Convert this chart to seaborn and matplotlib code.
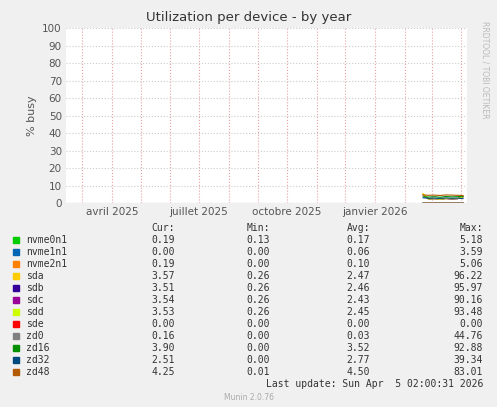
import matplotlib
matplotlib.use("Agg")
import matplotlib.pyplot as plt
import matplotlib.dates as mdates
import seaborn as sns
import pandas as pd
import numpy as np

dates = pd.to_datetime(["2026-02-20","2026-02-26","2026-03-04","2026-03-10","2026-03-16","2026-03-22","2026-03-28","2026-04-03"])
names = ["nvme0n1","nvme1n1","nvme2n1","sda","sdb","sdc","sdd","sde","zd0","zd16","zd32","zd48"]
colors = ["#00CC00","#0066B3","#FF8000","#FFCC00","#330099","#990099","#CCFF00","#FF0000","#808080","#008F00","#00487D","#B35A00"]
values = {
 "nvme0n1":[0.2,0.15,0.2,0.18,0.2,0.15,0.17,0.19],
 "nvme1n1":[0.05,0.06,0.05,0.07,0.06,0.05,0.06,0.0],
 "nvme2n1":[0.1,0.12,0.1,0.09,0.1,0.11,0.1,0.19],
 "sda":[5.5,2.3,2.6,2.2,2.5,2.4,2.6,3.57],
 "sdb":[4.8,2.3,2.5,2.2,2.6,2.3,2.5,3.51],
 "sdc":[4.6,2.2,2.4,2.1,2.5,2.3,2.4,3.54],
 "sdd":[5.0,2.2,2.5,2.1,2.6,2.4,2.5,3.53],
 "sde":[0,0,0,0,0,0,0,0],
 "zd0":[0.03,0.02,0.04,0.03,0.02,0.03,0.04,0.16],
 "zd16":[3.5,3.4,3.6,3.3,3.7,3.5,3.6,3.90],
 "zd32":[3.0,2.7,2.8,2.6,2.9,2.7,2.8,2.51],
 "zd48":[4.6,4.4,4.5,4.3,4.6,4.5,4.4,4.25],
}
cur = [0.19,0.00,0.19,3.57,3.51,3.54,3.53,0.00,0.16,3.90,2.51,4.25]
mins = [0.13,0.00,0.00,0.26,0.26,0.26,0.26,0.00,0.00,0.00,0.00,0.01]
avgs = [0.17,0.06,0.10,2.47,2.46,2.43,2.45,0.00,0.03,3.52,2.77,4.50]
maxs = [5.18,3.59,5.06,96.22,95.97,90.16,93.48,0.00,44.76,92.88,39.34,83.01]
xticks = pd.to_datetime(["2025-04-01","2025-07-01","2025-10-01","2026-01-01"])
xlabels = ["avril 2025","juillet 2025","octobre 2025","janvier 2026"]

rows = []
for n in names:
    for d, v in zip(dates, values[n]):
        rows.append({"date": d, "v": v, "dev": n})
df = pd.DataFrame(rows)

sns.set_style("white")
plt.rcParams['font.family'] = ['DejaVu Sans']
fig = plt.figure(figsize=(4.97, 4.07), dpi=100, facecolor="#F0F0F0")
ax = fig.add_axes([66/497, 1-203/407, 401/497, 175/407])
ax.set_facecolor("white")
sns.lineplot(data=df, x="date", y="v", hue="dev", palette=dict(zip(names, colors)),
             ax=ax, legend=False, linewidth=0.8)
ax.set_xlim(pd.Timestamp("2025-02-12"), pd.Timestamp("2026-04-07"))
ax.set_ylim(0, 100)
ax.set_yticks(range(0, 101, 10))
ax.set_xticks(xticks)
ax.set_xticklabels(xlabels)
ax.tick_params(labelsize=7.5, colors="#555555", length=0, pad=3)
ax.xaxis.set_minor_locator(mdates.MonthLocator())
ax.grid(True, which="major", axis="y", color="#CCCCCC", linestyle=":", linewidth=0.8)
ax.grid(True, which="both", axis="x", color="#E8A0A0", linestyle=":", linewidth=0.8)
for s in ax.spines.values():
    s.set_visible(False)
ax.axhline(0, color="#AAAAFF", lw=0.8)
ax.set_xlabel("")
ax.set_ylabel("% busy", fontsize=8, color="#555555")
fig.text(0.5, 1-18/407, "Utilization per device - by year", ha="center", va="center", fontsize=9.5, color="#333333")
fig.text(0.975, 1-70/407, "RRDTOOL / TOBI OETIKER", rotation=270, ha="center", va="center", fontsize=5.5, color="#BBBBBB")

mono = "DejaVu Sans Mono"
fs = 7
y0 = 1-240/407
dy = 12/407
hy = 1-228/407
for xx, lab in [(175, "Cur:"), (270, "Min:"), (370, "Avg:"), (483, "Max:")]:
    fig.text(xx/497, hy, lab, ha="right", va="center", fontsize=fs, family=mono, color="#333333")
for i, n in enumerate(names):
    y = y0 - i*dy
    fig.patches.append(plt.Rectangle((13/497, y-3/407), 6/497, 6/407, transform=fig.transFigure, color=colors[i]))
    fig.text(26/497, y, n, va="center", fontsize=fs, family=mono, color="#333333")
    fig.text(175/497, y, f"{cur[i]:.2f}", ha="right", va="center", fontsize=fs, family=mono, color="#333333")
    fig.text(270/497, y, f"{mins[i]:.2f}", ha="right", va="center", fontsize=fs, family=mono, color="#333333")
    fig.text(370/497, y, f"{avgs[i]:.2f}", ha="right", va="center", fontsize=fs, family=mono, color="#333333")
    fig.text(483/497, y, f"{maxs[i]:.2f}", ha="right", va="center", fontsize=fs, family=mono, color="#333333")
fig.text(483/497, 1-384/407, "Last update: Sun Apr  5 02:00:31 2026", ha="right", va="center", fontsize=fs, family=mono, color="#333333")
fig.text(0.5, 1-397/407, "Munin 2.0.76", ha="center", va="center", fontsize=5.5, color="#AAAAAA")
fig.savefig("out.png", dpi=100, facecolor=fig.get_facecolor())
